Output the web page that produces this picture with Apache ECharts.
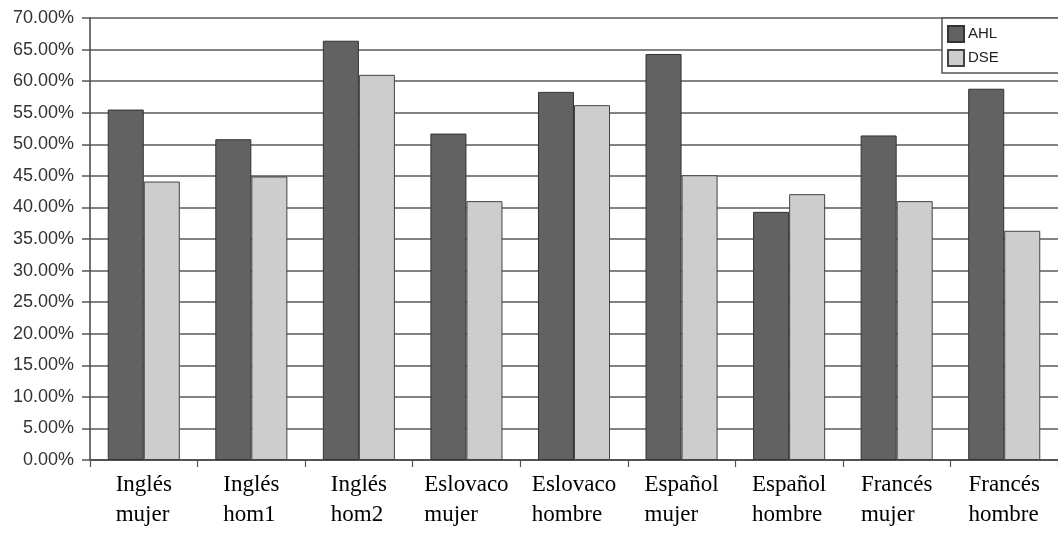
<!DOCTYPE html>
<html>
<head>
<meta charset="utf-8">
<script src="https://cdn.jsdelivr.net/npm/echarts@6/dist/echarts.min.js"></script>
<style>
  html, body { margin: 0; padding: 0; background: #ffffff; }
  #chart { width: 1058px; height: 536px; }
</style>
</head>
<body>
<div id="chart"></div>
<script>
// Group labels (two lines each)
const categories = [
  ['Inglés', 'mujer'],
  ['Inglés', 'hom1'],
  ['Inglés', 'hom2'],
  ['Eslovaco', 'mujer'],
  ['Eslovaco', 'hombre'],
  ['Español', 'mujer'],
  ['Español', 'hombre'],
  ['Francés', 'mujer'],
  ['Francés', 'hombre']
];

// Percentages per group
const ahl = [55.5, 50.8, 66.4, 51.7, 58.3, 64.3, 39.3, 51.4, 58.8];
const dse = [44.1, 44.9, 61.0, 41.0, 56.2, 45.1, 42.1, 41.0, 36.3];

const seriesNames = ['AHL', 'DSE'];

const chart = echarts.init(document.getElementById('chart'), null, { renderer: 'canvas' });

chart.setOption({
  backgroundColor: '#ffffff',
  animation: false,
  legend: {
    data: seriesNames,
    orient: 'vertical',
    left: 942,
    top: 18,
    padding: [7, 120, 6, 5],
    icon: 'rect',
    itemWidth: 16,
    itemHeight: 16,
    itemGap: 6,
    backgroundColor: '#ffffff',
    borderColor: '#555555',
    borderWidth: 1.5,
    textStyle: { fontFamily: 'Liberation Sans', fontSize: 15, color: '#222222', padding: [0, 0, 0, -1] }
  },
  grid: {
    left: 90,
    top: 18,
    width: 977,
    height: 442
  },
  xAxis: {
    type: 'category',
    data: categories.map(c => c.join('\n')),
    axisLine: { show: true, lineStyle: { color: '#444444', width: 1.5 } },
    axisTick: { show: true, length: 7, lineStyle: { color: '#555555', width: 1.2 } },
    axisLabel: {
      interval: 0,
      margin: 10,
      formatter: v => v.split('\n').map(s => '{l|' + s + '}').join('\n'),
      rich: {
        l: {
          align: 'left',
          fontFamily: 'Liberation Serif',
          fontSize: 23,
          lineHeight: 30,
          color: '#000000'
        }
      }
    },
    splitLine: { show: false }
  },
  yAxis: {
    type: 'value',
    min: 0,
    max: 70,
    interval: 5,
    axisLine: { show: true, lineStyle: { color: '#444444', width: 1.5 } },
    axisTick: { show: true, inside: false, length: 8, lineStyle: { color: '#555555', width: 1.5 } },
    axisLabel: {
      margin: 16,
      fontFamily: 'Liberation Sans',
      fontSize: 18,
      color: '#333333',
      formatter: v => v.toFixed(2) + '%'
    },
    splitLine: { show: true, lineStyle: { color: '#5a5a5a', width: 1.5 } }
  },
  series: [
    {
      name: seriesNames[0],
      type: 'bar',
      data: ahl,
      barGap: '0%',
      barCategoryGap: '33%',
      itemStyle: { color: '#626262', borderColor: '#333333', borderWidth: 1 }
    },
    {
      name: seriesNames[1],
      type: 'bar',
      data: dse,
      barGap: '0%',
      barCategoryGap: '33%',
      itemStyle: { color: '#cdcdcd', borderColor: '#444444', borderWidth: 1 }
    }
  ]
});
</script>
</body>
</html>
